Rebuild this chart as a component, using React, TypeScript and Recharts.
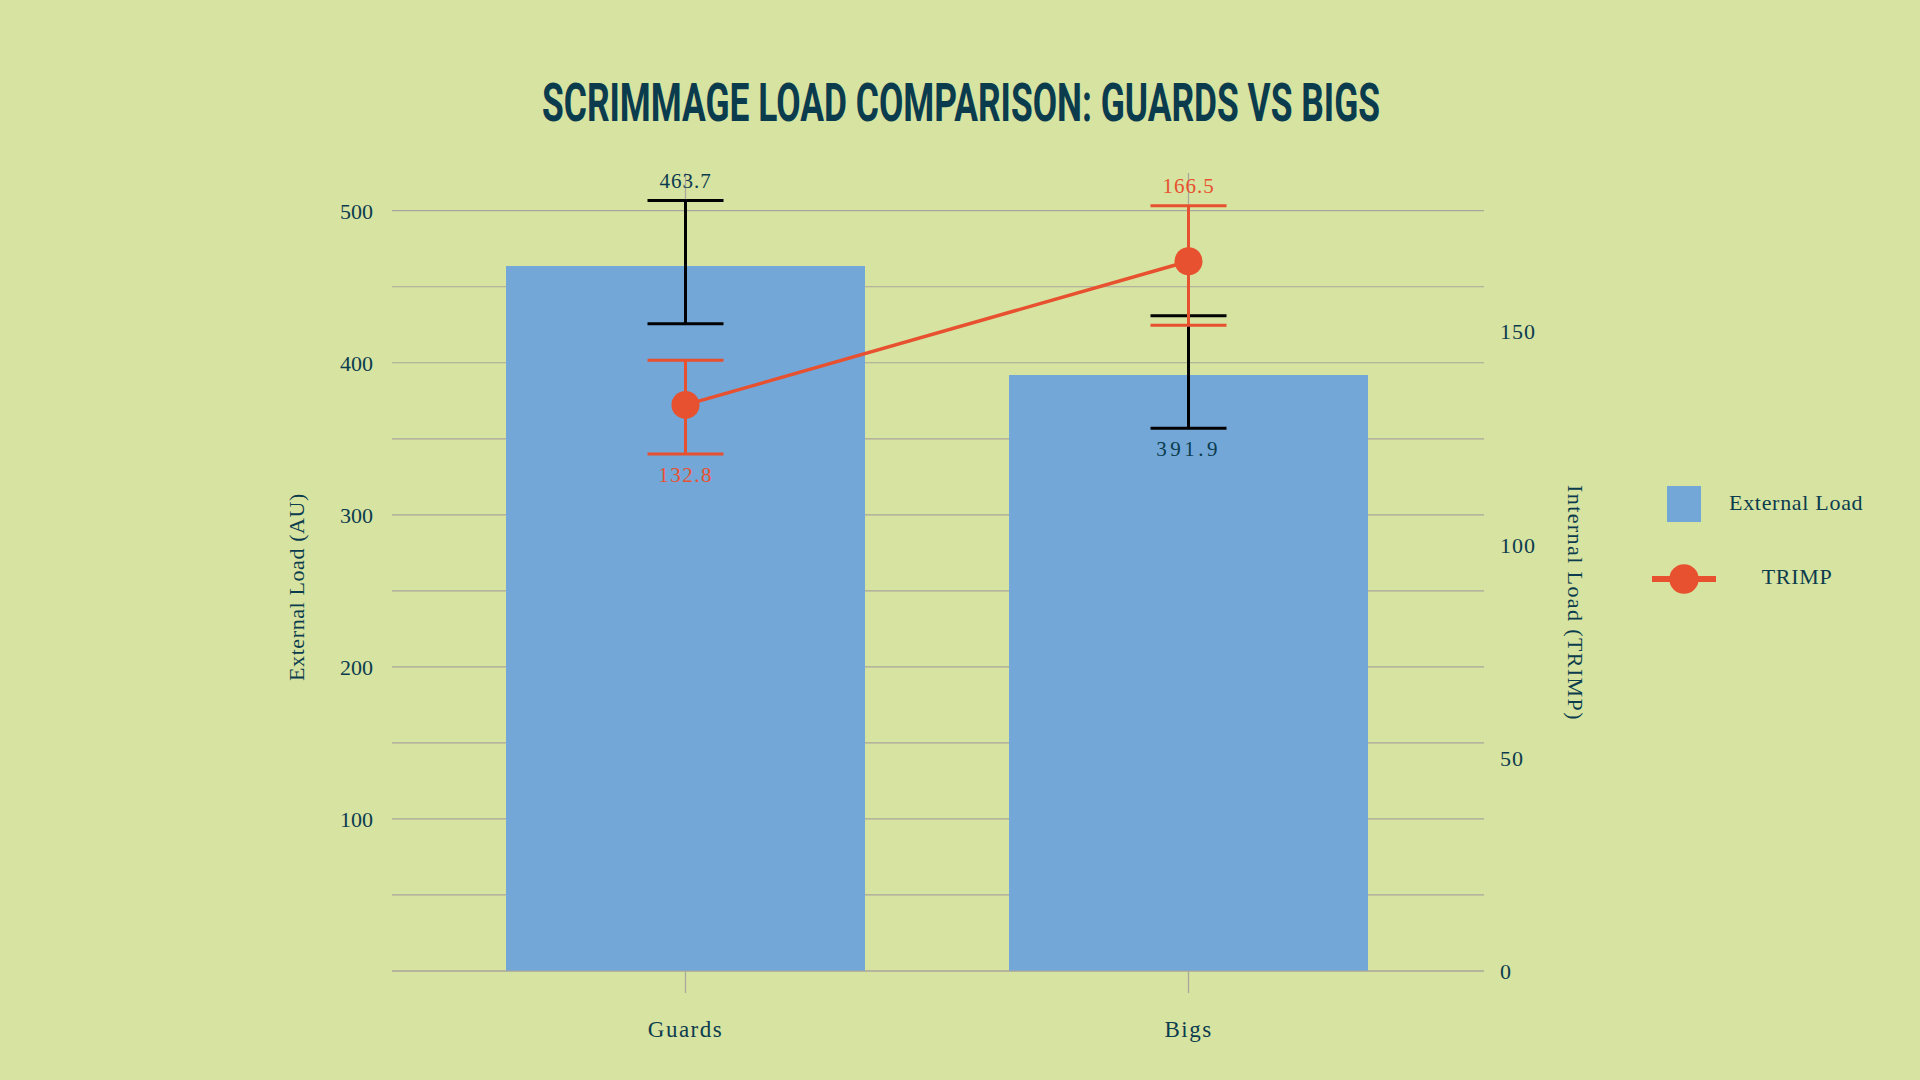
import {
  ComposedChart,
  Bar,
  Line,
  XAxis,
  YAxis,
  CartesianGrid,
  ErrorBar,
  LabelList,
} from "recharts";

// values
const categories = ["Guards", "Bigs"];
const externalLoad = [463.7, 391.9];
const externalErr = [
  [38, 43],
  [35, 39],
]; // [below, above]
const trimp = [132.8, 166.5];
const trimpErr = [
  [11.5, 10.5],
  [15, 13],
]; // [below, above]
const externalLabelSide = ["top", "bottom"];
const trimpLabelSide = ["bottom", "top"];

const leftTicks = [100, 200, 300, 400, 500];
const rightTicks = [0, 50, 100, 150];
const gridValues = [0, 50, 100, 150, 200, 250, 300, 350, 400, 450, 500];

const BG = "#d7e3a1";
const INK = "#0b3c4e";
const BLUE = "#72a7d7";
const RED = "#e8512f";
const GRID = "#aaa69c";
const FONT = "'Liberation Serif', 'DejaVu Serif', serif";

const data = categories.map((name, i) => ({
  name,
  ext: externalLoad[i],
  extErr: externalErr[i],
  trimp: trimp[i],
  trimpErr: trimpErr[i],
  // anchor for value text: the end of the error bar on the label's side
  extLabelAt:
    externalLabelSide[i] === "top"
      ? externalLoad[i] + externalErr[i][1]
      : externalLoad[i] - externalErr[i][0],
  trimpLabelAt:
    trimpLabelSide[i] === "top"
      ? trimp[i] + trimpErr[i][1]
      : trimp[i] - trimpErr[i][0],
}));

const valueLabel =
  (values: number[], sides: string[], color: string, spacing: number[]) =>
  (props: any) => {
    const { x, y, index } = props;
    if (x == null || y == null) return null;
    const dy = sides[index] === "top" ? -20 : 21;
    return (
      <text
        x={x}
        y={y + dy}
        textAnchor="middle"
        dominantBaseline="central"
        fill={color}
        fontFamily={FONT}
        fontSize={21}
        letterSpacing={spacing[index]}
      >
        {values[index].toFixed(1)}
      </text>
    );
  };

// vertical grid only through the category centres, not at the plot edges
const centreLines = ({ xAxis }: any) => {
  try {
    const s = xAxis?.scale;
    if (!s) return [];
    const f =
      typeof s === "function"
        ? s
        : typeof s.map === "function"
        ? (v: string) => s.map(v)
        : null;
    if (!f) return [];
    const bw = typeof s.bandwidth === "function" ? s.bandwidth() : 0;
    return categories
      .map((c) => f(c) + bw / 2)
      .filter((v) => Number.isFinite(v));
  } catch (e) {
    return [];
  }
};

export default function App() {
  return (
    <div
      style={{
        position: "absolute",
        left: 0,
        top: 0,
        width: 1920,
        height: 1080,
        background: BG,
        overflow: "hidden",
      }}
    >
      <ComposedChart
        width={1920}
        height={1080}
        data={data}
        margin={{ top: 173, right: 356, bottom: 29, left: 312 }}
      >
        <CartesianGrid
          yAxisId="left"
          stroke={GRID}
          strokeWidth={1.2}
          horizontalValues={gridValues}
          verticalCoordinatesGenerator={centreLines}
        />
        <XAxis
          dataKey="name"
          padding={{ left: 42, right: 44 }}
          height={80}
          axisLine={{ stroke: GRID, strokeWidth: 1.2 }}
          tickLine={{ stroke: GRID, strokeWidth: 1.2 }}
          tickSize={22}
          tickMargin={28}
          tick={{
            fill: INK,
            fontFamily: FONT,
            fontSize: 23,
            letterSpacing: 1.5,
          }}
        />
        <YAxis
          yAxisId="left"
          width={80}
          domain={[0, 524.8]}
          allowDataOverflow
          ticks={leftTicks}
          axisLine={false}
          tickLine={false}
          tickSize={0}
          tickMargin={19}
          tick={{ fill: INK, fontFamily: FONT, fontSize: 22 }}
          label={{
            content: () => (
              <text
                x={296}
                y={587}
                transform="rotate(-90 296 587)"
                textAnchor="middle"
                dominantBaseline="central"
                fill={INK}
                fontFamily={FONT}
                fontSize={22}
                letterSpacing={0.6}
              >
                External Load (AU)
              </text>
            ),
          }}
        />
        <YAxis
          yAxisId="right"
          orientation="right"
          width={80}
          domain={[0, 187.2]}
          allowDataOverflow
          ticks={rightTicks}
          axisLine={false}
          tickLine={false}
          tickSize={0}
          tickMargin={16}
          tick={{ fill: INK, fontFamily: FONT, fontSize: 22, letterSpacing: 1 }}
          label={{
            content: () => (
              <text
                x={1575}
                y={603}
                transform="rotate(90 1575 603)"
                textAnchor="middle"
                dominantBaseline="central"
                fill={INK}
                fontFamily={FONT}
                fontSize={22}
                letterSpacing={1.4}
              >
                Internal Load (TRIMP)
              </text>
            ),
          }}
        />
        <Bar
          yAxisId="left"
          dataKey="ext"
          fill={BLUE}
          barSize={359}
          isAnimationActive={false}
        >
          <ErrorBar
            dataKey="extErr"
            direction="y"
            width={38}
            stroke="#000000"
            strokeWidth={3}
          />
        </Bar>
        <Line
          yAxisId="right"
          dataKey="trimp"
          stroke={RED}
          strokeWidth={3.5}
          dot={{ r: 14, fill: RED, stroke: RED, strokeWidth: 0 }}
          activeDot={false}
          isAnimationActive={false}
        >
          <ErrorBar
            dataKey="trimpErr"
            direction="y"
            width={38}
            stroke={RED}
            strokeWidth={3}
          />
        </Line>
        <Line
          yAxisId="left"
          dataKey="extLabelAt"
          stroke="none"
          dot={false}
          activeDot={false}
          legendType="none"
          isAnimationActive={false}
        >
          <LabelList
            dataKey="extLabelAt"
            content={valueLabel(externalLoad, externalLabelSide, INK, [1, 3.5])}
          />
        </Line>
        <Line
          yAxisId="right"
          dataKey="trimpLabelAt"
          stroke="none"
          dot={false}
          activeDot={false}
          legendType="none"
          isAnimationActive={false}
        >
          <LabelList
            dataKey="trimpLabelAt"
            content={valueLabel(trimp, trimpLabelSide, RED, [1.5, 1])}
          />
        </Line>
      </ComposedChart>

      {/* title and legend */}
      <svg
        width={1920}
        height={1080}
        style={{ position: "absolute", left: 0, top: 0, pointerEvents: "none" }}
      >
        <text
          x={961}
          y={121}
          textAnchor="middle"
          fill={INK}
          fontFamily="Roboto, 'DejaVu Sans', sans-serif"
          fontWeight={700}
          fontSize={53}
          textLength={838}
          lengthAdjust="spacingAndGlyphs"
        >
          SCRIMMAGE LOAD COMPARISON: GUARDS VS BIGS
        </text>

        <rect x={1667} y={486} width={34} height={36} fill={BLUE} />
        <text
          x={1729}
          y={502}
          dominantBaseline="central"
          fill={INK}
          fontFamily={FONT}
          fontSize={22}
          letterSpacing={0.7}
        >
          External Load
        </text>

        <line
          x1={1652}
          y1={579}
          x2={1716}
          y2={579}
          stroke={RED}
          strokeWidth={6}
        />
        <circle cx={1684} cy={579} r={14.7} fill={RED} />
        <text
          x={1797}
          y={576}
          textAnchor="middle"
          dominantBaseline="central"
          fill={INK}
          fontFamily={FONT}
          fontSize={22}
          letterSpacing={0.7}
        >
          TRIMP
        </text>
      </svg>
    </div>
  );
}
